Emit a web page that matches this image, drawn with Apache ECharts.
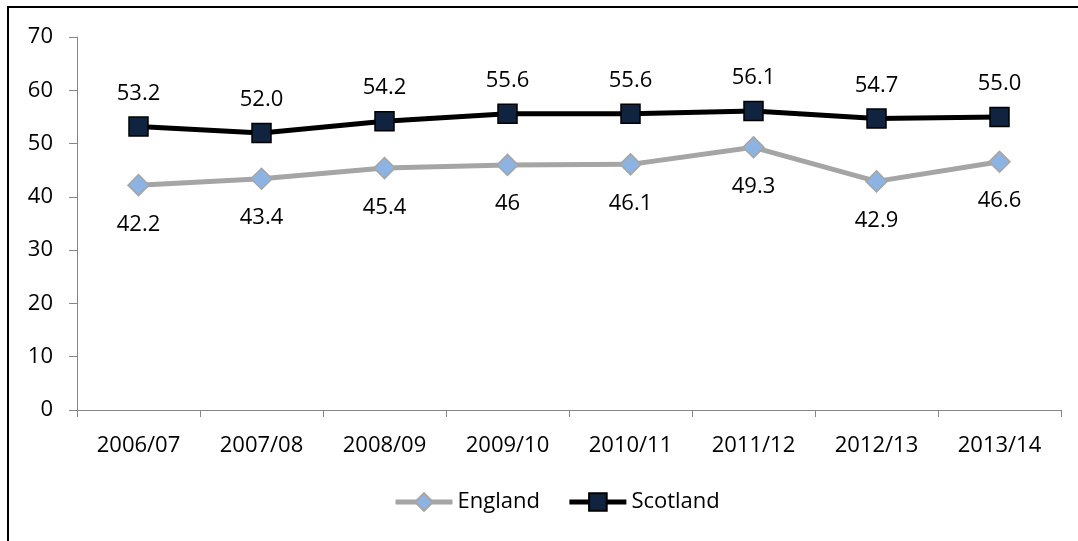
<!DOCTYPE html>
<html>
<head>
<meta charset="utf-8">
<script src="https://cdn.jsdelivr.net/npm/echarts@6/dist/echarts.min.js"></script>
<style>
  html, body { margin: 0; padding: 0; background: #fff; }
  #chart { width: 1078px; height: 541px; }
</style>
</head>
<body>
<div id="chart"></div>
<script>
var years = ['2006/07', '2007/08', '2008/09', '2009/10', '2010/11', '2011/12', '2012/13', '2013/14'];
var england = [42.2, 43.4, 45.4, 46, 46.1, 49.3, 42.9, 46.6];
var scotland = [53.2, 52.0, 54.2, 55.6, 55.6, 56.1, 54.7, 55.0];

var FONT = '"Open Sans", "Noto Sans", sans-serif';
var axisGrey = '#868686';

var myChart = echarts.init(document.getElementById('chart'));
myChart.setOption({
  animation: false,
  backgroundColor: '#fff',
  textStyle: { fontFamily: FONT },
  graphic: [{
    type: 'rect',
    shape: { x: 8, y: 7, width: 1200, height: 700 },
    style: { fill: 'none', stroke: '#000', lineWidth: 2 },
    silent: true
  }],
  grid: { left: 77, right: 17, top: 37, bottom: 131 },
  legend: {
    left: 388,
    top: 486,
    itemWidth: 57,
    itemHeight: 22,
    itemGap: 27,
    lineStyle: { width: 5 },
    textStyle: { fontSize: 22, color: '#000', fontFamily: FONT },
    data: ['England', 'Scotland']
  },
  xAxis: {
    type: 'category',
    data: years,
    axisLine: { lineStyle: { color: axisGrey, width: 1 } },
    axisTick: { show: true, length: 7, lineStyle: { color: axisGrey } },
    axisLabel: { fontSize: 22, color: '#000', margin: 25, fontFamily: FONT },
    splitLine: { show: false }
  },
  yAxis: {
    type: 'value',
    min: 0,
    max: 70,
    interval: 10,
    axisLine: { show: true, lineStyle: { color: axisGrey, width: 1 } },
    axisTick: { show: true, length: 8, lineStyle: { color: axisGrey } },
    axisLabel: { fontSize: 22, color: '#000', margin: 24, fontFamily: FONT },
    splitLine: { show: false }
  },
  series: [
    {
      name: 'England',
      type: 'line',
      data: england,
      symbol: 'diamond',
      symbolSize: 21,
      lineStyle: { color: '#a5a5a5', width: 5 },
      itemStyle: { color: '#8db3e2', borderColor: '#a5a5a5', borderWidth: 1.5 },
      label: {
        show: true,
        position: 'bottom',
        distance: 17,
        fontSize: 22,
        color: '#000',
        fontFamily: FONT
      },
      z: 2
    },
    {
      name: 'Scotland',
      type: 'line',
      data: scotland,
      symbol: 'rect',
      symbolSize: 19,
      lineStyle: { color: '#000', width: 5 },
      itemStyle: { color: '#10243f', borderColor: '#000', borderWidth: 1.5 },
      label: {
        show: true,
        position: 'top',
        distance: 12,
        fontSize: 22,
        color: '#000',
        fontFamily: FONT,
        formatter: function (p) { return p.value.toFixed(1); }
      },
      z: 3
    }
  ]
});
</script>
</body>
</html>
